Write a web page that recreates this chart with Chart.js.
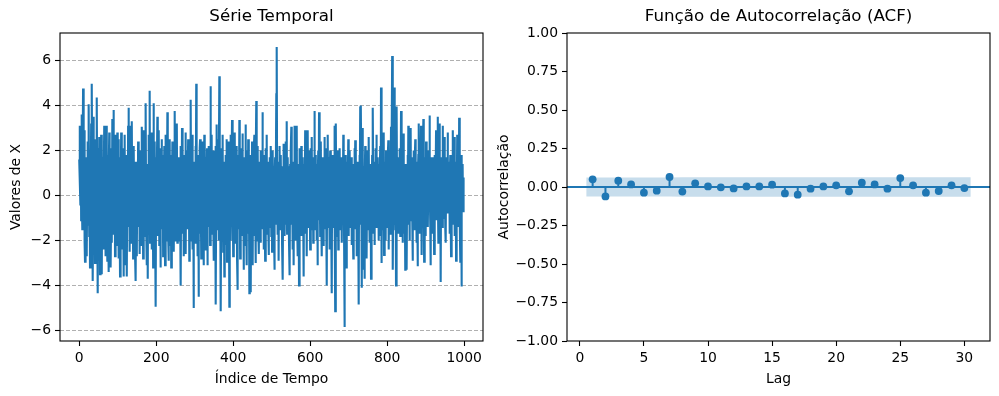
<!DOCTYPE html>
<html>
<head>
<meta charset="UTF-8">
<title>Série Temporal e ACF</title>
<script src="https://cdn.jsdelivr.net/npm/chart.js"></script>
<style>
  body { margin: 0; background: #fff; }
  canvas { position: absolute; top: 0; }
</style>
</head>
<body>
<canvas id="serieChart" width="499" height="396" style="left:0px"></canvas>
<canvas id="acfChart" width="509" height="396" style="left:490px"></canvas>
<script>
// valores (indice 0..999)
const serieValues = [
  1.6,3.1,0.6,-0.4,2.7,-1.1,3.6,0.3,-1.5,2.0,4.75,1.3,-0.8,2.9,-2.1,-2.95,1.0,-0.3,1.7,-2.7,
  -2.4,0.7,2.4,-1.3,0.4,4.05,-1.8,1.1,-3.2,1.5,-0.6,3.2,-2.2,4.97,0.1,-3.8,-1.0,3.5,-1.7,0.8,
  2.5,-3.0,-0.7,1.8,-2.5,0.6,4.35,-1.3,-4.35,0.3,2.1,-1.5,2.6,0.4,-3.5,1.4,-0.8,2.7,-2.0,-3.5,
  1.1,-2.4,1.7,-2.4,0.7,3.1,-1.1,0.1,-2.7,2.2,3.1,-0.6,1.3,-2.9,1.8,-0.3,-3.4,1.0,2.8,-1.4,
  0.6,2.1,-3.2,-0.8,1.5,-2.1,3.4,0.0,-1.7,3.8,0.8,-1.3,2.0,-2.7,0.4,2.7,-2.2,1.1,-0.4,2.8,
  // 100
  -1.8,0.7,2.5,-2.8,1.3,-1.0,-3.6,1.7,-0.6,2.8,-2.4,0.8,2.1,-1.5,0.3,-3.6,1.4,-0.7,2.7,-2.0,
  1.0,-3.1,1.8,0.1,-3.6,1.1,-1.4,3.1,3.9,-0.8,1.3,-2.5,3.1,-0.3,1.5,-2.1,0.6,3.3,-1.1,1.7,
  -2.8,0.7,2.2,-1.7,0.4,-2.6,1.5,-3.8,0.8,1.5,-2.7,1.1,-0.4,2.4,-1.4,0.3,2.0,-2.6,1.3,-0.7,
  1.8,-2.2,0.6,3.05,-1.3,1.0,-2.8,1.7,2.9,-1.8,0.7,-1.1,2.2,4.1,-1.5,0.4,-3.1,1.4,-3.7,1.1,
  -0.6,2.7,-1.7,4.65,-2.1,0.8,-0.3,2.8,-2.4,1.3,-0.8,2.0,-3.2,4.1,0.3,-1.4,2.4,-1.0,0.7,-4.95,
  // 200
  1.7,-1.1,0.8,3.5,-1.8,1.3,-0.4,2.9,-2.2,0.6,2.1,-3.2,1.0,-0.7,2.5,-1.5,0.1,1.8,-2.7,0.8,
  -0.3,2.2,-1.3,-3.1,1.1,2.7,-2.0,0.4,-1.0,3.7,0.7,-1.7,-2.9,1.4,-0.6,2.5,-2.2,0.8,1.8,-3.2,
  1.3,-0.7,2.4,-1.8,0.3,1.5,-2.5,0.6,3.75,-2.0,1.0,-0.8,2.1,-1.4,3.2,-2.1,0.4,1.7,-1.3,0.8,
  -2.0,1.4,-0.4,2.2,-4.0,1.1,-1.0,3.0,-1.7,0.7,1.8,-2.7,0.1,1.5,-1.1,0.8,2.8,-2.6,1.3,-0.6,
  2.0,-1.5,0.4,2.5,-0.8,1.0,-2.9,1.7,-0.3,0.7,4.25,-2.0,1.1,-0.7,2.7,-2.4,0.6,-5.0,1.5,-0.4,
  // 300
  1.3,-2.1,2.2,-1.1,4.97,-0.6,1.4,-2.7,0.8,1.8,-4.5,0.3,-1.0,2.1,2.5,-1.7,0.6,-2.8,1.5,-0.8,
  1.1,2.4,-1.3,-3.1,0.7,2.7,-0.4,-2.4,1.7,0.1,-1.8,1.0,2.1,-3.1,0.4,-0.7,2.2,-1.4,0.6,1.7,
  -2.2,4.85,0.8,-1.1,2.7,-1.7,0.4,1.4,-0.7,-2.9,2.0,0.3,-2.1,1.3,2.2,-4.85,0.6,3.15,-1.5,1.0,
  -0.8,2.5,-2.0,0.7,5.3,-1.3,1.1,1.7,-5.15,0.4,2.1,-1.4,0.8,2.7,-2.5,0.3,1.5,-3.6,1.3,-0.6,
  1.8,-2.2,0.6,2.5,-2.95,1.0,-0.4,2.4,-1.7,0.7,-4.95,1.4,-0.8,2.7,-2.0,0.3,1.7,3.35,-1.1,0.8,
  // 400
  -2.7,2.0,-1.4,1.1,2.8,-2.1,0.4,1.5,-1.0,2.2,-2.8,-4.2,1.3,-0.3,1.8,-1.5,3.35,0.6,-2.8,1.4,
  -0.7,2.1,-1.8,0.8,2.75,-1.1,0.3,-3.3,1.7,-0.6,1.3,-2.2,3.15,0.1,-1.4,-3.1,2.0,0.7,-1.7,2.5,
  -1.0,1.5,-4.35,0.8,1.8,-1.4,-4.3,1.3,-0.4,2.4,0.6,-3.1,1.4,-0.8,2.1,2.7,-1.8,0.4,-3.0,1.7,
  4.2,0.0,-2.0,1.1,2.2,-1.3,0.6,-2.6,1.5,-0.3,1.0,-2.1,2.0,0.3,-1.5,1.3,3.7,-0.8,1.4,-2.4,
  0.7,1.8,-1.1,-2.9,0.8,2.1,-0.6,2.7,-1.7,0.4,1.5,-1.3,-2.65,1.1,-0.4,1.7,-1.4,0.6,2.2,-1.8,
  // 500
  0.3,-2.5,0.8,2.0,-1.0,1.3,-1.7,-3.3,0.7,1.7,-1.3,0.4,4.5,6.6,1.1,-1.75,0.6,1.5,-2.9,1.0,
  -0.7,2.2,-1.5,0.3,1.8,-1.1,0.8,-2.2,1.3,-3.75,0.6,2.3,-0.8,1.4,-1.8,0.4,2.4,-1.3,0.7,3.3,
  -1.7,1.0,1.7,-0.6,1.3,-2.1,0.4,-3.55,1.4,-0.3,2.0,3.05,-1.3,0.8,-2.4,1.5,-0.4,-3.1,1.1,3.1,
  -1.0,1.8,-2.0,0.7,2.5,3.1,-1.1,0.3,-2.7,1.4,-0.7,-4.0,1.3,2.1,-1.5,0.4,-0.8,2.2,-1.8,1.1,
  0.1,1.7,-1.3,-3.6,0.8,1.4,-0.6,2.9,-1.7,0.6,1.8,-2.7,1.0,-0.4,2.9,-1.4,0.7,2.0,-1.1,0.3,
  // 600
  -2.4,1.3,2.1,-0.8,2.6,-1.5,0.4,1.7,-2.1,0.8,-0.3,3.75,0.6,-1.5,1.8,-1.0,1.1,-2.0,1.4,-3.1,
  0.7,2.0,-1.1,3.7,-0.6,1.3,-1.8,0.8,2.4,-1.3,-2.7,1.1,-0.4,1.7,-2.2,0.6,1.4,2.6,-1.5,0.4,
  -0.8,2.1,-1.7,-4.0,1.1,-0.3,2.7,-1.4,0.7,1.7,-2.4,0.4,2.0,-1.1,0.8,-2.0,-4.35,1.3,-0.4,1.8,
  -1.4,0.6,1.5,3.1,-1.0,-5.15,0.8,3.2,-0.7,1.3,-1.8,0.3,2.0,-2.4,1.0,-0.6,1.4,2.1,-1.5,0.4,
  -0.8,1.7,-2.1,0.7,1.3,-1.1,2.7,0.3,-1.7,-5.85,1.0,1.8,-0.6,1.1,-3.2,0.7,1.5,-1.3,0.4,2.5,
  // 700
  -1.8,0.8,-0.3,2.0,-1.4,1.1,-0.7,1.7,-2.2,0.6,1.4,-1.1,-2.8,1.3,-0.4,2.1,-1.5,2.45,0.3,-1.0,
  0.8,-2.7,1.5,-0.6,1.1,-1.7,-4.85,0.7,1.8,-0.8,3.95,-1.3,4.0,0.4,-4.1,1.0,3.0,-1.8,0.6,-3.3,
  1.3,-3.7,0.7,2.2,-1.1,0.3,1.7,-2.8,0.8,-0.6,2.0,-1.5,2.6,-0.4,1.3,-2.1,0.6,1.4,-3.7,1.0,
  -0.7,1.8,-1.7,3.9,0.1,-1.1,1.5,-2.2,0.8,-0.3,2.1,-1.4,2.7,0.4,-1.3,1.7,-0.6,1.1,-2.0,1.4,
  -1.0,0.7,2.2,-1.8,4.8,0.3,-3.0,1.3,-0.7,1.8,-1.5,2.8,-2.65,0.8,-0.3,1.5,-2.0,2.0,-0.8,1.0,
  // 800
  -1.4,0.6,1.7,2.45,-2.4,0.4,-1.1,1.4,-1.7,0.8,3.05,-0.7,2.0,6.2,1.1,-3.3,0.7,-1.3,1.8,4.8,
  0.3,-1.5,1.0,-4.0,1.3,3.95,-0.8,0.6,1.7,-1.1,-1.7,0.8,-0.4,2.1,-1.8,0.1,3.75,-1.0,0.7,1.5,
  -2.1,0.4,2.75,-0.6,1.1,-1.7,0.8,-3.3,1.4,-0.3,1.3,-3.3,0.6,1.8,-1.3,3.1,-0.7,1.0,-2.0,1.5,
  0.3,3.0,-1.1,0.7,1.7,-0.8,-2.9,1.3,-0.4,2.0,-1.5,0.6,1.4,2.5,-1.0,0.4,-2.1,1.5,-0.6,-3.15,
  0.8,1.8,3.2,-0.7,1.1,-1.7,0.3,1.4,3.1,-1.3,-2.65,1.0,-0.4,1.5,3.4,0.1,-2.95,1.1,-0.8,1.7,
  // 900
  -1.8,2.4,0.6,-1.0,1.4,-0.3,-1.4,0.8,2.0,-0.7,3.55,0.4,-1.3,-3.1,1.1,1.7,-0.6,0.7,-1.7,1.7,
  0.4,-0.8,-2.6,1.3,1.8,-0.4,0.8,2.9,-1.1,0.6,1.5,3.5,0.3,-2.1,1.0,2.0,3.2,-1.3,0.7,-3.85,
  0.8,-0.6,1.7,-1.4,3.1,0.4,-1.0,1.4,2.6,-0.7,1.1,-1.5,-2.1,0.6,1.7,-0.4,0.8,2.8,-0.8,1.3,
  -0.3,1.5,-1.7,0.7,1.8,-1.1,-2.7,1.0,-0.1,1.4,2.9,-1.3,0.6,-0.7,2.6,0.3,-1.8,0.8,1.5,-2.9,
  0.6,-0.8,2.7,-1.4,0.7,1.7,-0.6,3.45,0.4,-1.1,-2.95,1.3,1.8,-4.05,0.8,-0.4,1.4,-0.7,0.3,0.8
];
const serieXTicks = [0, 200, 400, 600, 800, 1000];
const serieYTicks = [-6, -4, -2, 0, 2, 4, 6];

const acfLags = [1,2,3,4,5,6,7,8,9,10,11,12,13,14,15,16,17,18,19,20,21,22,23,24,25,26,27,28,29,30];
const acfValues = [0.050,-0.061,0.041,0.017,-0.037,-0.024,0.065,-0.030,0.024,0.004,
                   -0.002,-0.009,0.004,0.004,0.015,-0.042,-0.050,-0.011,0.004,0.011,
                   -0.028,0.028,0.017,-0.011,0.058,0.011,-0.037,-0.026,0.011,-0.007];
const acfConf = [0.062,0.062,0.062,0.062,0.062,0.062,0.062,0.063,0.063,0.063,
                 0.063,0.063,0.063,0.063,0.063,0.063,0.063,0.063,0.063,0.063,
                 0.063,0.063,0.063,0.063,0.063,0.063,0.064,0.064,0.064,0.064];
const acfXTicks = [0, 5, 10, 15, 20, 25, 30];
const acfYTicks = [-1, -0.75, -0.5, -0.25, 0, 0.25, 0.5, 0.75, 1];

const FONT = 'DejaVu Sans';
const C0 = '#1f77b4';
Chart.defaults.color = '#000';
Chart.defaults.font.family = FONT;

function minus(s) { return String(s).replace('-', '\u2212'); }

// moldura e titulo centrado na area do grafico
const framePlugin = {
    id: 'frame',
    afterDraw(chart, args, opts) {
        const a = chart.chartArea, ctx = chart.ctx;
        ctx.save();
        ctx.strokeStyle = '#000';
        ctx.lineWidth = 1.1;
        ctx.strokeRect(a.left, a.top, a.right - a.left, a.bottom - a.top);
        ctx.fillStyle = '#000';
        ctx.font = '16.7px "' + FONT + '"';
        ctx.textAlign = 'center';
        ctx.textBaseline = 'middle';
        ctx.fillText(opts.text, (a.left + a.right) / 2, 17);
        ctx.restore();
    }
};

function fixedTicks(list) {
    return function (scale) { scale.ticks = list.map(v => ({ value: v })); };
}

// --- serie temporal ---
const yMin = Math.min(...serieValues), yMax = Math.max(...serieValues);
const yPad = 0.05 * (yMax - yMin);
const xPad = 0.05 * (serieValues.length - 1);

new Chart(document.getElementById('serieChart'), {
    type: 'line',
    data: {
        datasets: [{
            data: serieValues.map((v, i) => ({ x: i, y: v })),
            borderColor: C0,
            borderWidth: 2.1,
            pointRadius: 0,
            tension: 0
        }]
    },
    plugins: [framePlugin],
    options: {
        responsive: false,
        animation: false,
        events: [],
        layout: { padding: { left: 0, right: 16, top: 33, bottom: 0 } },
        plugins: { legend: { display: false }, tooltip: { enabled: false }, frame: { text: 'Série Temporal' } },
        scales: {
            x: {
                type: 'linear',
                min: -xPad, max: serieValues.length - 1 + xPad,
                afterBuildTicks: fixedTicks(serieXTicks),
                afterFit(s) { s.height = 55; },
                grid: { drawOnChartArea: false, tickLength: 5, tickColor: '#000', tickWidth: 1.1 },
                border: { display: false },
                ticks: { padding: 4, maxRotation: 0, font: { size: 13.9 }, callback: v => minus(v) },
                title: { display: true, text: 'Índice de Tempo', font: { size: 13.9 }, padding: { top: 0, bottom: 8 } }
            },
            y: {
                min: yMin - yPad, max: yMax + yPad,
                afterBuildTicks: fixedTicks(serieYTicks),
                afterFit(s) { s.width = 60; },
                grid: { color: '#b0b0b0', lineWidth: 1, tickLength: 5, tickColor: '#000', tickWidth: 1.1, tickBorderDash: [] },
                border: { display: false, dash: [4, 2] },
                ticks: { padding: 4, font: { size: 13.9 }, callback: v => minus(v) },
                title: { display: true, text: 'Valores de X', font: { size: 13.9 }, padding: { top: 8, bottom: 0 } }
            }
        }
    }
});

// --- ACF ---
const bandX = acfLags.map((l, i) => i === 0 ? l - 0.5 : (i === acfLags.length - 1 ? l + 0.5 : l));
const stems = [];
acfLags.forEach((l, i) => { stems.push({ x: l, y: 0 }, { x: l, y: acfValues[i] }, { x: l, y: null }); });
const acfXMin = -1, acfXMax = 32;

new Chart(document.getElementById('acfChart'), {
    type: 'line',
    data: {
        datasets: [
            { data: acfLags.map((l, i) => ({ x: l, y: acfValues[i] })), showLine: false,
              pointRadius: 3.9, pointBackgroundColor: C0, pointBorderWidth: 0 },
            { data: stems, borderColor: C0, borderWidth: 2, pointRadius: 0, spanGaps: false },
            { data: [{ x: acfXMin, y: 0 }, { x: acfXMax, y: 0 }], borderColor: C0, borderWidth: 2, pointRadius: 0 },
            { data: bandX.map((x, i) => ({ x: x, y: acfConf[i] })), borderWidth: 0, pointRadius: 0,
              fill: '+1', backgroundColor: 'rgba(31,119,180,0.25)' },
            { data: bandX.map((x, i) => ({ x: x, y: -acfConf[i] })), borderWidth: 0, pointRadius: 0 }
        ]
    },
    plugins: [framePlugin],
    options: {
        responsive: false,
        animation: false,
        events: [],
        layout: { padding: { left: 0, right: 9, top: 33, bottom: 0 } },
        plugins: { legend: { display: false }, tooltip: { enabled: false }, frame: { text: 'Função de Autocorrelação (ACF)' } },
        scales: {
            x: {
                type: 'linear',
                min: acfXMin, max: acfXMax,
                afterBuildTicks: fixedTicks(acfXTicks),
                afterFit(s) { s.height = 55; },
                grid: { drawOnChartArea: false, tickLength: 5, tickColor: '#000', tickWidth: 1.1 },
                border: { display: false },
                ticks: { padding: 4, maxRotation: 0, font: { size: 13.9 } },
                title: { display: true, text: 'Lag', font: { size: 13.9 }, padding: { top: 0, bottom: 8 } }
            },
            y: {
                min: -1, max: 1,
                afterBuildTicks: fixedTicks(acfYTicks),
                afterFit(s) { s.width = 77; },
                grid: { drawOnChartArea: false, tickLength: 5, tickColor: '#000', tickWidth: 1.1 },
                border: { display: false },
                ticks: { padding: 4, font: { size: 13.9 }, callback: v => minus(v.toFixed(2)) },
                title: { display: true, text: 'Autocorrelação', font: { size: 13.9 }, padding: { top: 6, bottom: 0 } }
            }
        }
    }
});
</script>
</body>
</html>
